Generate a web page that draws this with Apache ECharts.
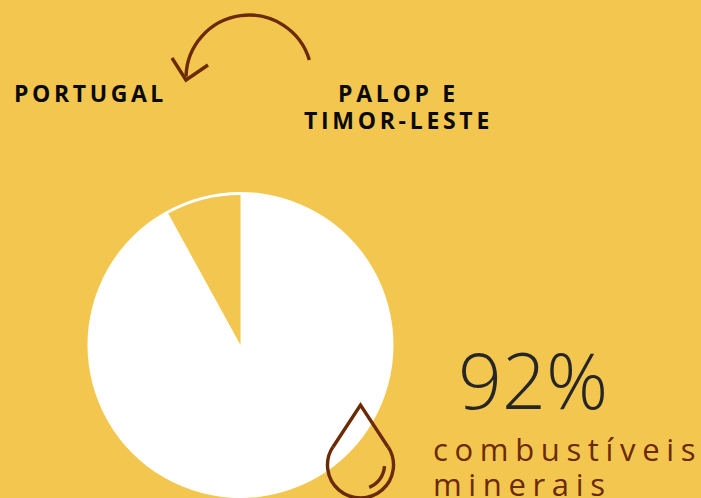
<!DOCTYPE html>
<html>
<head>
<meta charset="utf-8">
<style>html,body{margin:0;padding:0;background:#f3c74f}#c{width:701px;height:498px}</style>
<script src="https://cdn.jsdelivr.net/npm/echarts@6/dist/echarts.min.js"></script>
</head>
<body>
<div id="c"></div>
<script>
// Share of exports by product group
const sliceNames = ['combustíveis minerais', 'outros'];
const sliceValues = [92, 8];
const fromLabel = 'PALOP E\nTIMOR-LESTE';
const toLabel = 'PORTUGAL';
const productLabel = 'combustíveis\nminerais';

const BG = '#f3c74f', BROWN = '#6b2a02', INK = '#262626';
const center = [240.5, 345];

const chart = echarts.init(document.getElementById('c'), null, { renderer: 'svg' });

const txt = (x, y, text, font, fill, align) => ({
  type: 'text', x, y, z: 10,
  style: Object.assign({ text, fill, align: align || 'left', verticalAlign: 'top', fontFamily: '"Open Sans"' }, font)
});
const stroke = { stroke: BROWN, lineWidth: 3.4, fill: null };

chart.setOption({
  backgroundColor: BG,
  animation: false,
  series: [
    // plain disc behind the slices, leaves a thin rim over the small slice
    {
      type: 'pie', center, radius: [0, 153], silent: true, z: 1,
      label: { show: false }, labelLine: { show: false },
      itemStyle: { color: '#ffffff' },
      data: [{ name: 'total', value: sliceValues[0] + sliceValues[1] }]
    },
    {
      type: 'pie', center, radius: [0, 150], startAngle: 90, clockwise: true, silent: true, z: 2,
      label: { show: false }, labelLine: { show: false },
      data: sliceNames.map((name, i) => ({
        name, value: sliceValues[i],
        itemStyle: { color: i === 0 ? '#ffffff' : BG }
      }))
    }
  ],
  graphic: [
    // curved arrow between the two labels
    { type: 'arc', z: 10, shape: { cx: 249, cy: 78, r: 63, startAngle: -0.29, endAngle: -3.12, clockwise: false }, style: stroke },
    { type: 'polyline', z: 10, shape: { points: [[172, 58], [186, 80], [208, 65]] }, style: stroke },
    // oil drop icon: pointed top, round belly, small highlight
    { type: 'polyline', z: 10, shape: { points: [[333, 447], [360.5, 405], [388, 447]] }, style: stroke },
    { type: 'arc', z: 10, shape: { cx: 360.5, cy: 465, r: 33, startAngle: -0.58, endAngle: -2.56, clockwise: true }, style: stroke },
    { type: 'arc', z: 10, shape: { cx: 360.5, cy: 465, r: 24, startAngle: 0.05, endAngle: 1.2, clockwise: true }, style: stroke },
    txt(14, 78, toLabel, { fontSize: 23, fontWeight: 700, lineHeight: 30 }, '#0a0a0a'),
    txt(398.5, 79, fromLabel, { fontSize: 23, fontWeight: 700, lineHeight: 27 }, '#0a0a0a', 'center'),
    txt(458, 334, sliceValues[0] + '%', { fontSize: 77, fontWeight: 300, lineHeight: 90 }, INK),
    txt(433, 431, productLabel, { fontSize: 31, fontWeight: 400, lineHeight: 35 }, BROWN)
  ]
});

// Tracking for the headings and the product name
const tracking = { [toLabel]: '3.6px', 'PALOP E': '3.7px', 'TIMOR-LESTE': '3.7px', 'combustíveis': '6.65px', 'minerais': '6.65px' };
document.querySelectorAll('#c svg text, #c svg tspan').forEach(el => {
  const t = el.textContent;
  if (tracking[t]) el.setAttribute('style', (el.getAttribute('style') || '') + ';letter-spacing:' + tracking[t]);
});
</script>
</body>
</html>
